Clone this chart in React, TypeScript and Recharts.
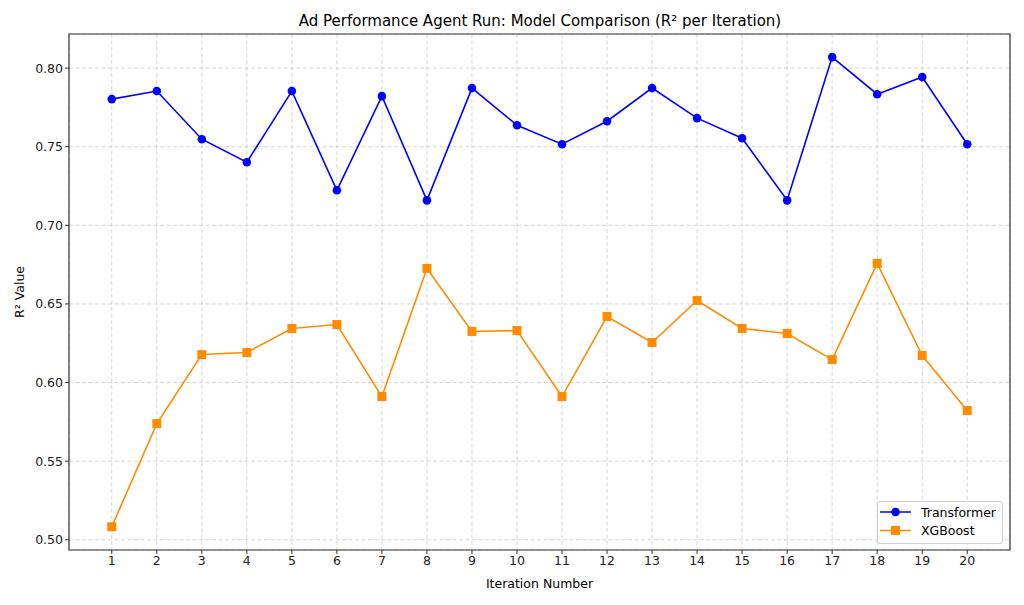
import React from 'react';
import { LineChart, Line, XAxis, YAxis, CartesianGrid, ReferenceArea } from 'recharts';

const iterations = [1, 2, 3, 4, 5, 6, 7, 8, 9, 10, 11, 12, 13, 14, 15, 16, 17, 18, 19, 20];
const transformerR2 = [0.7803, 0.7854, 0.7548, 0.7401, 0.7854, 0.7223, 0.7822, 0.7159, 0.7873, 0.7637, 0.7516, 0.7662, 0.7873, 0.7682, 0.7554, 0.7159, 0.8070, 0.7834, 0.7943, 0.7516];
const xgboostR2 = [0.5083, 0.5739, 0.6178, 0.6191, 0.6344, 0.6369, 0.5911, 0.6726, 0.6325, 0.6331, 0.5911, 0.6420, 0.6255, 0.6522, 0.6344, 0.6312, 0.6146, 0.6758, 0.6172, 0.5822];
const yTicks = [0.5, 0.55, 0.6, 0.65, 0.7, 0.75, 0.8];

const data = iterations.map((it, i) => ({ it, transformer: transformerR2[i], xgboost: xgboostR2[i] }));

const FONT = 'DejaVu Sans, sans-serif';
const BLUE = '#0000ff';
const ORANGE = '#ff8c00';
const X_MIN = 0.05, X_MAX = 20.95, Y_MIN = 0.4935, Y_MAX = 0.8217;

const SquareDot = (props: any) => {
  const { cx, cy, index } = props;
  if (cx == null || cy == null) return null;
  return <rect key={`sq-${index}`} x={cx - 4.5} y={cy - 4.5} width={9} height={9} fill={ORANGE} />;
};
const CircleDot = (props: any) => {
  const { cx, cy, index } = props;
  if (cx == null || cy == null) return null;
  return <circle key={`c-${index}`} cx={cx} cy={cy} r={4.3} fill={BLUE} />;
};

const LegendBox = () => (
  <div style={{ position: 'absolute', left: 877, top: 501, width: 126, height: 43, border: '1px solid #d0d0d0', borderRadius: 3, background: 'rgba(255,255,255,0.85)', boxSizing: 'border-box' }}>
    <svg width={126} height={43} style={{ position: 'absolute', left: -1, top: -1, overflow: 'visible' }}>
      <line x1={3} x2={34} y1={11} y2={11} stroke={BLUE} strokeWidth={1.5} />
      <circle cx={18.5} cy={11} r={4.3} fill={BLUE} />
      <line x1={3} x2={34} y1={29.5} y2={29.5} stroke={ORANGE} strokeWidth={1.5} />
      <rect x={14} y={25} width={9} height={9} fill={ORANGE} />
      <text x={44} y={15.5} fontSize={12.5} fontFamily={FONT} fill="#000">Transformer</text>
      <text x={44} y={34} fontSize={12.5} fontFamily={FONT} fill="#000">XGBoost</text>
    </svg>
  </div>
);

export default function App() {
  return (
    <div style={{ position: 'absolute', left: 0, top: 0, width: 1024, height: 605, background: '#fff' }}>
      <div style={{ position: 'absolute', left: 0, top: 12, width: 1080, textAlign: 'center', fontFamily: FONT, fontSize: 15, color: '#000' }}>
        Ad Performance Agent Run: Model Comparison (R² per Iteration)
      </div>
      <LineChart width={1024} height={605} data={data} margin={{ top: 34, right: 14, bottom: 25, left: 9 }}>
        <CartesianGrid stroke="#cccccc" strokeDasharray="4 2.5" strokeWidth={0.8} />
        <XAxis dataKey="it" type="number" domain={[X_MIN, X_MAX]} ticks={iterations} allowDataOverflow
          height={30} tickSize={4} tickLine={{ stroke: '#333' }} axisLine={false}
          tick={{ fill: '#222', fontSize: 12.5, fontFamily: FONT }}
          label={{ value: 'Iteration Number', position: 'insideBottom', offset: -8, fill: '#000', fontSize: 12.5, fontFamily: FONT }} />
        <YAxis type="number" domain={[Y_MIN, Y_MAX]} ticks={yTicks} allowDataOverflow width={60}
          tickSize={4} tickLine={{ stroke: '#333' }} axisLine={false}
          tickFormatter={(v: number) => v.toFixed(2)}
          tick={{ fill: '#222', fontSize: 12.5, fontFamily: FONT }}
          label={{ value: 'R² Value', angle: -90, position: 'insideLeft', offset: 11, fill: '#000', fontSize: 12.5, fontFamily: FONT, style: { textAnchor: 'middle' } }} />
        <ReferenceArea x1={X_MIN} x2={X_MAX} y1={Y_MIN} y2={Y_MAX} fill="none" stroke="#333" strokeWidth={1.2} ifOverflow="visible" />
        <Line type="linear" dataKey="transformer" stroke={BLUE} strokeWidth={1.6} dot={CircleDot} activeDot={false} isAnimationActive={false} />
        <Line type="linear" dataKey="xgboost" stroke={ORANGE} strokeWidth={1.6} dot={SquareDot} activeDot={false} isAnimationActive={false} />
      </LineChart>
      <LegendBox />
    </div>
  );
}
